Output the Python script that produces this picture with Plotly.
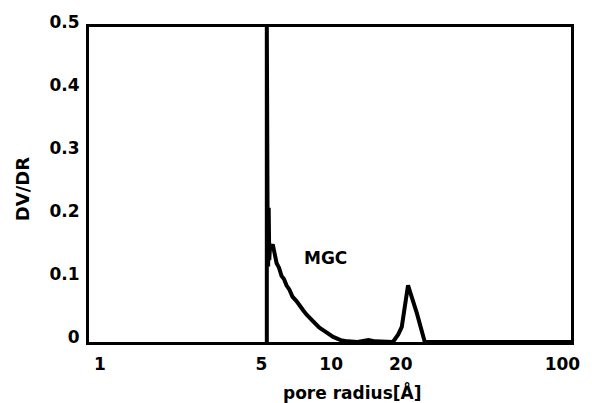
import plotly.graph_objects as go

# pore radius [Å] and DV/DR
radius = [5.27, 5.27, 5.29, 5.31, 5.34, 5.37, 5.40, 5.45, 5.52, 5.59, 5.70, 5.81, 5.95,
          6.10, 6.25, 6.41, 6.60, 6.80, 7.08, 7.30, 7.58, 7.85, 8.20, 8.50, 8.87,
          9.30, 9.70, 10.2, 11.0, 11.8, 13.0, 14.5, 15.5, 17.0, 18.5, 19.5, 20.2,
          21.5, 23.5, 25.4, 40.0, 70.0, 109.0]
dvdr = [0.0, 0.50, 0.06, 0.20, 0.12, 0.213, 0.13, 0.155, 0.15, 0.155, 0.14, 0.125, 0.118,
        0.105, 0.100, 0.090, 0.083, 0.072, 0.065, 0.057, 0.050, 0.043, 0.036, 0.030, 0.023,
        0.018, 0.013, 0.008, 0.003, 0.001, 0.0, 0.003, 0.001, 0.0, 0.0, 0.012, 0.024,
        0.090, 0.045, 0.0, 0.0, 0.0, 0.0]

x_ticks = [1, 5, 10, 20, 100]
x_tick_labels = ["1", "5", "10", "20", "100"]
y_ticks = [0, 0.1, 0.2, 0.3, 0.4, 0.5]
y_tick_labels = ["0", "0.1", "0.2", "0.3", "0.4", "0.5"]

font_family = "DejaVu Sans, sans-serif"

fig = go.Figure()
fig.add_trace(go.Scatter(
    x=radius, y=dvdr, mode="lines",
    line=dict(color="black", width=4),
    showlegend=False,
))

fig.add_annotation(x=0.974, y=0.133, xref="x", yref="y", text="MGC", showarrow=False,
                   xanchor="center", yanchor="middle",
                   font=dict(family=font_family, size=17, color="black", weight="bold"))
fig.add_annotation(x=0.546, y=-0.16, xref="paper", yref="paper", text="pore radius[Å]",
                   showarrow=False, xanchor="center", yanchor="middle",
                   font=dict(family=font_family, size=17, color="black", weight="bold"))
fig.add_annotation(x=-0.139, y=0.485, xref="paper", yref="paper", text="DV/DR",
                   showarrow=False, xanchor="center", yanchor="middle", textangle=-90,
                   font=dict(family=font_family, size=18, color="black", weight="bold"))

fig.update_layout(
    width=592, height=403,
    margin=dict(l=89, r=14, t=16, b=61),
    paper_bgcolor="white", plot_bgcolor="white",
    font=dict(family=font_family, color="black", size=17, weight="bold"),
)
fig.update_xaxes(
    type="log", range=[-0.047, 2.037],
    tickvals=x_ticks, ticktext=x_tick_labels,
    showgrid=False, zeroline=False, showline=True, mirror=True,
    linecolor="black", linewidth=3, ticks="",
    ticklabelstandoff=5,
    tickfont=dict(size=17, family=font_family, weight="bold"),
)
fig.update_yaxes(
    range=[0, 0.5],
    tickvals=y_ticks, ticktext=y_tick_labels,
    showgrid=False, zeroline=False, showline=True, mirror=True,
    linecolor="black", linewidth=3, ticks="",
    ticklabelstandoff=3, ticklabelshift=-5,
    tickfont=dict(size=17, family=font_family, weight="bold"),
)

fig.write_html("out.html")
